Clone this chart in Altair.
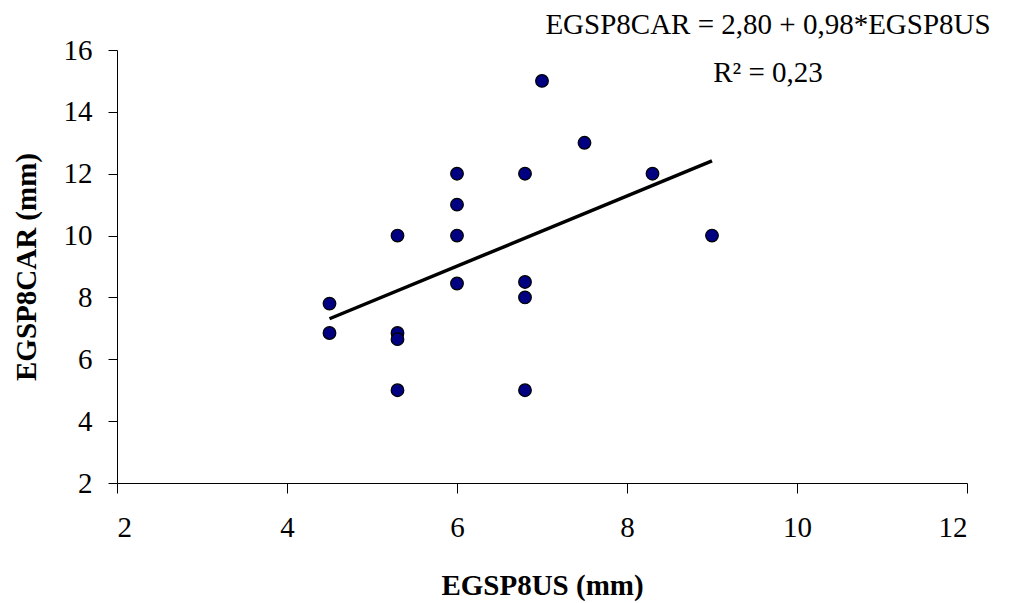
import altair as alt
import pandas as pd

# Data
x_us = [4.5, 4.5, 5.3, 5.3, 5.3, 5.3, 6.0, 6.0, 6.0, 6.0, 6.8, 6.8, 6.8, 6.8, 7.0, 7.5, 8.3, 9.0]
y_car = [7.8, 6.85, 10.0, 6.85, 6.65, 5.0, 12.0, 11.0, 10.0, 8.45, 12.0, 8.5, 8.0, 5.0, 15.0, 13.0, 12.0, 10.0]
x_ticks = [2, 4, 6, 8, 10, 12]
y_ticks = [2, 4, 6, 8, 10, 12, 14, 16]
eq_lines = ["EGSP8CAR = 2,80 + 0,98*EGSP8US", "R² = 0,23"]

df = pd.DataFrame({"x": x_us, "y": y_car})
FONT = "Liberation Serif"

x_enc = alt.X("x:Q", scale=alt.Scale(domain=[2, 12], nice=False, zero=False),
              axis=alt.Axis(values=x_ticks, format="d", title="EGSP8US (mm)", tickSize=10,
                            labelPadding=20, titlePadding=29))
y_enc = alt.Y("y:Q", scale=alt.Scale(domain=[2, 16], nice=False, zero=False),
              axis=alt.Axis(values=y_ticks, format="d", title="EGSP8CAR (mm)", tickSize=9,
                            labelPadding=16, titlePadding=22))

points = alt.Chart(df).mark_point(
    filled=True, shape="circle", size=160, fill="#000080", stroke="black",
    strokeWidth=1.2, opacity=1
).encode(x=x_enc, y=y_enc)

trend = alt.Chart(df).transform_regression("x", "y").mark_line(
    color="black", strokeWidth=3.5
).encode(x="x:Q", y="y:Q")

eq1 = alt.Chart(pd.DataFrame({"t": [eq_lines[0]]})).mark_text(
    font=FONT, fontSize=29, align="center", baseline="alphabetic", color="black"
).encode(text="t:N", x=alt.value(651), y=alt.value(-16))

eq2 = alt.Chart(pd.DataFrame({"t": [eq_lines[1]]})).mark_text(
    font=FONT, fontSize=29, align="center", baseline="alphabetic", color="black"
).encode(text="t:N", x=alt.value(651), y=alt.value(32))

chart = alt.layer(points, trend, eq1, eq2).properties(
    width=850, height=433,
    autosize=alt.AutoSizeParams(type="none"),
    padding={"left": 109, "top": 42, "right": 40, "bottom": 120},
).configure_view(stroke=None).configure_axis(
    grid=False, domainColor="black", tickColor="black", domainWidth=1, tickWidth=1,
    labelFont=FONT, labelFontSize=29, labelColor="black",
    titleFont=FONT, titleFontSize=29, titleFontWeight="bold", titleColor="black",
)

chart.save("out.html", embed_options={"renderer": "svg", "actions": False})
